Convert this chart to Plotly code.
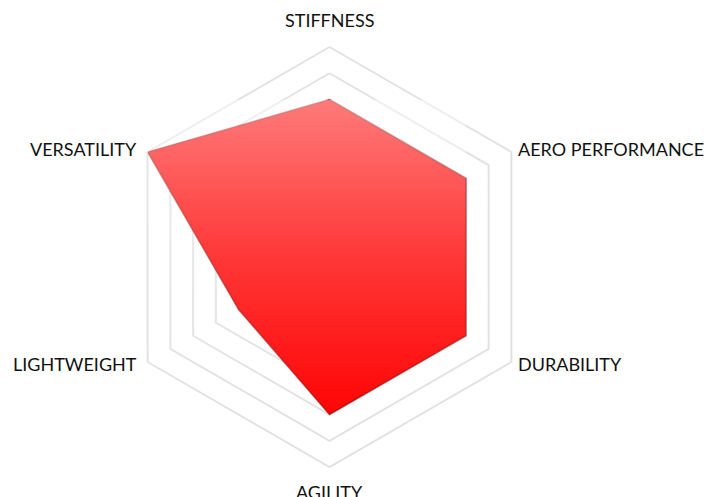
import math
import plotly.graph_objects as go

categories = ["STIFFNESS", "VERSATILITY", "LIGHTWEIGHT", "AGILITY", "DURABILITY", "AERO PERFORMANCE"]
values = [6, 8, 4, 6, 6, 6]
r_max = 8

theta = categories + [categories[0]]
r = values + [values[0]]

fig = go.Figure(go.Scatterpolar(
    r=r, theta=theta, mode="lines", fill="toself",
    fillcolor="#ff0505",
    line=dict(color="rgba(140,0,0,0.6)", width=1.5),
    hoverinfo="skip", showlegend=False,
))

W, H = 706, 497
cx, cy, R = 329.5, 257, 210

# category labels placed just outside each outer vertex
annotations = []
n = len(categories)
for i, name in enumerate(categories):
    a = math.radians(90 + 360 * i / n)
    px, py = cx + R * math.cos(a), cy - R * math.sin(a)
    c, s = math.cos(a), math.sin(a)
    if abs(c) < 0.1:
        xanchor, xshift = "center", 0
        yshift = 27 if s > 0 else -25
    else:
        xanchor = "right" if c < 0 else "left"
        xshift = -9 if c < 0 else 5
        yshift = 3 if s > 0 else -2
    annotations.append(dict(text=name, x=px / W, y=1 - py / H, xref="paper", yref="paper",
                            xanchor=xanchor, yanchor="middle", xshift=xshift, yshift=yshift,
                            showarrow=False))

# vertical light-to-clear sheen over the filled area (style only)
grad_svg = ("data:image/svg+xml;utf8,<svg xmlns='http://www.w3.org/2000/svg' width='100' height='100' "
            "preserveAspectRatio='none'><defs><linearGradient id='g' x1='0' y1='0' x2='0' y2='1'>"
            "<stop offset='0' stop-color='white' stop-opacity='0.47'/>"
            "<stop offset='0.5' stop-color='white' stop-opacity='0.2'/>"
            "<stop offset='1' stop-color='white' stop-opacity='0'/></linearGradient></defs>"
            "<rect width='100' height='100' fill='url(%23g)'/></svg>")

fig.update_layout(
    width=W, height=H,
    margin=dict(l=0, r=0, t=0, b=0),
    paper_bgcolor="white",
    font=dict(family="Lato, 'Open Sans', sans-serif", size=18, color="#111111"),
    annotations=annotations,
    images=[dict(source=grad_svg, xref="paper", yref="paper",
                 x=(cx - R * 0.866) / W, y=1 - (cy - R * 6 / 8) / H,
                 sizex=(R * 0.866 + R * 6 / 8 * 0.866) / W, sizey=(R * 6 / 8 * 2) / H,
                 xanchor="left", yanchor="top", sizing="stretch", layer="above")],
    polar=dict(
        domain=dict(x=[(cx - R) / W, (cx + R) / W], y=[(H - cy - R) / H, (H - cy + R) / H]),
        bgcolor="white",
        gridshape="linear",
        angularaxis=dict(
            rotation=90, direction="counterclockwise",
            showline=True, linecolor="#e2e2e2", linewidth=2,
            showgrid=False, ticks="", showticklabels=False,
            layer="below traces",
        ),
        radialaxis=dict(
            range=[0, r_max], dtick=1, showline=False, showticklabels=False,
            ticks="", gridcolor="#e2e2e2", gridwidth=2, layer="below traces",
        ),
    ),
)
fig.write_html("out.html", config={"displayModeBar": False},
               post_script="document.body.style.margin='0';document.body.style.overflow='hidden';")
